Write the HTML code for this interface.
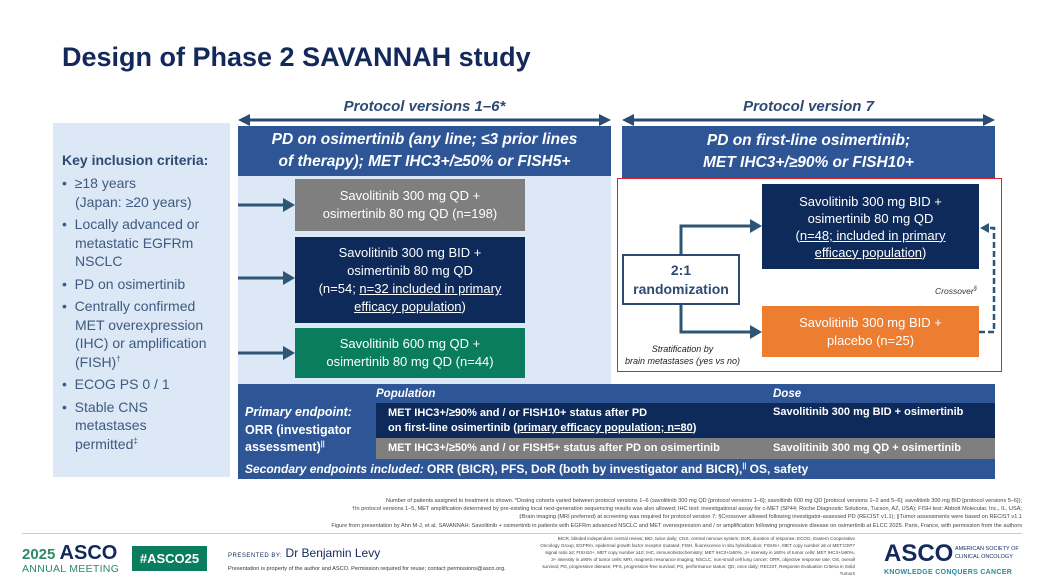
<!DOCTYPE html>
<html><head><meta charset="utf-8"><style>
*{margin:0;padding:0;box-sizing:border-box}
body{width:1040px;height:585px;background:#fff;font-family:"Liberation Sans",Arial,sans-serif;position:relative;overflow:hidden}
.a{position:absolute}
.c{display:flex;align-items:center;justify-content:center;text-align:center;color:#fff}
u{text-decoration:underline}
.li{padding-left:13px;text-indent:-13px;margin-top:4px}
sup{line-height:0}
</style></head><body>
<div class="a" style="left:62px;top:42px;font-size:27px;font-weight:bold;color:#13285b">Design of Phase 2 SAVANNAH study</div>

<div class="a" style="left:238px;top:98px;width:373px;text-align:center;font-size:15px;font-weight:bold;font-style:italic;color:#2d4a73">Protocol versions 1–6*</div>
<div class="a" style="left:622px;top:98px;width:373px;text-align:center;font-size:15px;font-weight:bold;font-style:italic;color:#2d4a73">Protocol version 7</div>
<svg class="a" style="left:0;top:0" width="1040" height="585">
<g fill="#2d4a73" stroke="#2d4a73">
<line x1="244" y1="120" x2="605" y2="120" stroke-width="3"/>
<polygon points="238,120 250,114 250,126" stroke="none"/><polygon points="611,120 599,114 599,126" stroke="none"/>
<line x1="628" y1="120" x2="989" y2="120" stroke-width="3"/>
<polygon points="622,120 634,114 634,126" stroke="none"/><polygon points="995,120 983,114 983,126" stroke="none"/>
</g>
</svg>

<div class="a" style="left:53px;top:123px;width:177px;height:354px;background:#dce8f5"></div>
<div class="a" style="left:238px;top:176px;width:373px;height:208px;background:#dce8f5"></div>
<div class="a" style="left:62px;top:152px;font-size:14px;font-weight:bold;color:#2d4a73">Key inclusion criteria:</div>
<div class="a" style="left:62px;top:174px;width:162px;font-size:14px;line-height:18.5px;color:#3e5a80">
<div class="li" style="margin-top:0">•&nbsp; ≥18 years<br>(Japan: ≥20 years)</div>
<div class="li">•&nbsp; Locally advanced or metastatic EGFRm NSCLC</div>
<div class="li">•&nbsp; PD on osimertinib</div>
<div class="li">•&nbsp; Centrally confirmed MET overexpression (IHC) or amplification (FISH)<sup style="font-size:8px">†</sup></div>
<div class="li">•&nbsp; ECOG PS 0 / 1</div>
<div class="li">•&nbsp; Stable CNS<br>metastases<br>permitted<sup style="font-size:8px">‡</sup></div>
</div>

<div class="a c" style="left:238px;top:126px;width:373px;height:50px;background:#2e5596;font-size:15.5px;font-weight:bold;font-style:italic;line-height:22px"><div>PD on osimertinib (any line; ≤3 prior lines<br>of therapy); MET IHC3+/≥50% or FISH5+</div></div>
<div class="a c" style="left:622px;top:126px;width:373px;height:52px;background:#2e5596;font-size:15.5px;font-weight:bold;font-style:italic;line-height:22px"><div>PD on first-line osimertinib;<br>MET IHC3+/≥90% or FISH10+</div></div>

<div class="a c" style="left:295px;top:179px;width:230px;height:52px;background:#7f7f7f;font-size:13px;line-height:18px"><div>Savolitinib 300 mg QD +<br>osimertinib 80 mg QD (n=198)</div></div>
<div class="a c" style="left:295px;top:237px;width:230px;height:86px;background:#0d2a5a;font-size:13px;line-height:18px"><div>Savolitinib 300 mg BID +<br>osimertinib 80 mg QD<br>(n=54; <u>n=32 included in primary</u><br><u>efficacy population</u>)</div></div>
<div class="a c" style="left:295px;top:328px;width:230px;height:50px;background:#0a7d5e;font-size:13px;line-height:18px"><div>Savolitinib 600 mg QD +<br>osimertinib 80 mg QD (n=44)</div></div>

<div class="a" style="left:617px;top:178px;width:385px;height:194px;border:1.5px solid #d9262c;background:#fff"></div>
<div class="a c" style="left:762px;top:184px;width:217px;height:85px;background:#0d2a5a;font-size:13px;line-height:17px"><div>Savolitinib 300 mg BID +<br>osimertinib 80 mg QD<br>(<u>n=48; included in primary</u><br><u>efficacy population</u>)</div></div>
<div class="a c" style="left:762px;top:306px;width:217px;height:51px;background:#ec7d31;font-size:13px;line-height:18px"><div>Savolitinib 300 mg BID +<br>placebo (n=25)</div></div>
<div class="a c" style="left:622px;top:254px;width:118px;height:51px;border:2px solid #2d4a73;background:#fff;color:#2d4a73;font-size:14px;font-weight:bold;line-height:19px"><div>2:1<br>randomization</div></div>
<div class="a" style="left:620px;top:343px;width:125px;text-align:center;font-size:9px;font-style:italic;color:#222;line-height:12px">Stratification by<br>brain metastases (yes vs no)</div>
<div class="a" style="left:935px;top:286px;font-size:8.5px;font-style:italic;color:#333">Crossover<sup style="font-size:6px">§</sup></div>

<svg class="a" style="left:0;top:0" width="1040" height="585">
<g fill="#2d5576" stroke="#2d5576">
<line x1="238" y1="205" x2="285" y2="205" stroke-width="3"/><polygon points="295,205 283,198 283,212" stroke="none"/>
<line x1="238" y1="278" x2="285" y2="278" stroke-width="3"/><polygon points="295,278 283,271 283,285" stroke="none"/>
<line x1="238" y1="353" x2="285" y2="353" stroke-width="3"/><polygon points="295,353 283,346 283,360" stroke="none"/>
<polyline points="681,254 681,226 752,226" fill="none" stroke-width="3"/><polygon points="762,226 750,219 750,233" stroke="none"/>
<polyline points="681,305 681,332 752,332" fill="none" stroke-width="3"/><polygon points="762,332 750,325 750,339" stroke="none"/>
<polyline points="979,332 994,332 994,228 988,228" fill="none" stroke-width="2.5" stroke-dasharray="6,3"/><polygon points="980,228 989,223 989,233" stroke="none"/>
</g>
</svg>

<div class="a" style="left:238px;top:384px;width:757px;height:95px;background:#2e5596"></div>
<div class="a" style="left:376px;top:388px;font-size:11.5px;font-weight:bold;font-style:italic;color:#fff">Population</div>
<div class="a" style="left:773px;top:388px;font-size:11.5px;font-weight:bold;font-style:italic;color:#fff">Dose</div>
<div class="a" style="left:245px;top:404px;font-size:12.5px;font-weight:bold;color:#fff;line-height:17.5px"><i>Primary endpoint:</i><br>ORR (investigator<br>assessment)<sup style="font-size:7px">||</sup></div>
<div class="a" style="left:376px;top:403px;width:619px;height:35px;background:#0d2a5a"></div>
<div class="a" style="left:388px;top:406px;font-size:11px;font-weight:bold;color:#fff;line-height:15px">MET IHC3+/≥90% and / or FISH10+ status after PD<br>on first-line osimertinib (<u>primary efficacy population; n=80</u>)</div>
<div class="a" style="left:773px;top:406px;font-size:11px;font-weight:bold;color:#fff">Savolitinib 300 mg BID + osimertinib</div>
<div class="a" style="left:376px;top:438px;width:619px;height:21px;background:#7f7f7f"></div>
<div class="a" style="left:388px;top:442px;font-size:11px;font-weight:bold;color:#fff">MET IHC3+/≥50% and / or FISH5+ status after PD on osimertinib</div>
<div class="a" style="left:773px;top:442px;font-size:11px;font-weight:bold;color:#fff">Savolitinib 300 mg QD + osimertinib</div>
<div class="a" style="left:245px;top:462px;font-size:12px;font-weight:bold;color:#fff"><i>Secondary endpoints included:</i> ORR (BICR), PFS, DoR (both by investigator and BICR),<sup style="font-size:7px">||</sup> OS, safety</div>

<div class="a" style="left:200px;top:497px;width:822px;text-align:right;font-size:5.6px;line-height:8.2px;color:#444">
Number of patients assigned to treatment is shown. *Dosing cohorts varied between protocol versions 1–6 (savolitinib 300 mg QD [protocol versions 1–6]; savolitinib 600 mg QD [protocol versions 1–2 and 5–6]; savolitinib 300 mg BID [protocol versions 5–6]);<br>
†In protocol versions 1–5, MET amplification determined by pre-existing local next-generation sequencing results was also allowed; IHC test: investigational assay for c-MET (SP44; Roche Diagnostic Solutions, Tucson, AZ, USA); FISH test: Abbott Molecular, Inc., IL, USA;<br>
‡Brain imaging (MRI preferred) at screening was required for protocol version 7; §Crossover allowed following investigator-assessed PD (RECIST v1.1); ||Tumor assessments were based on RECIST v1.1<br>
Figure from presentation by Ahn M-J, et al. SAVANNAH: Savolitinib + osimertinib in patients with EGFRm advanced NSCLC and MET overexpression and / or amplification following progressive disease on osimertinib at ELCC 2025. Paris, France, with permission from the authors</div>
<div class="a" style="left:22px;top:533px;width:1000px;height:1px;background:#ccc"></div>

<div class="a" style="left:22px;top:543px;font-size:20px;font-weight:bold;color:#13285b;line-height:20px"><span style="color:#2a8a6a;font-size:15px">2025 </span>ASCO</div>
<div class="a" style="left:22px;top:563px;font-size:10.5px;color:#2a8a6a;letter-spacing:0.3px">ANNUAL MEETING</div>
<div class="a c" style="left:132px;top:546px;width:75px;height:25px;background:#0a7d5e;font-size:13px;font-weight:bold">#ASCO25</div>
<div class="a" style="left:228px;top:546px;font-size:12px;color:#13285b"><span style="font-size:6px;letter-spacing:0.5px">PRESENTED BY:</span> Dr Benjamin Levy</div>
<div class="a" style="left:228px;top:566px;font-size:5.6px;color:#333">Presentation is property of the author and ASCO. Permission required for reuse; contact permissions@asco.org.</div>
<div class="a" style="left:540px;top:535px;width:315px;text-align:right;font-size:4.6px;line-height:7px;color:#444">BICR, blinded independent central review; BID, twice daily; CNS, central nervous system; DoR, duration of response; ECOG, Eastern Cooperative Oncology Group; EGFRm, epidermal growth factor receptor mutated; FISH, fluorescence in situ hybridization; FISH5+, MET copy number ≥5 or MET:CEP7 signal ratio ≥2; FISH10+, MET copy number ≥10; IHC, immunohistochemistry; MET IHC3+/≥50%, 3+ intensity in ≥50% of tumor cells; MET IHC3+/≥90%, 3+ intensity in ≥90% of tumor cells; MRI, magnetic resonance imaging; NSCLC, non-small cell lung cancer; ORR, objective response rate; OS, overall survival; PD, progressive disease; PFS, progression-free survival; PS, performance status; QD, once daily; RECIST, Response Evaluation Criteria in Solid Tumors</div>
<div class="a" style="left:884px;top:540px;font-size:24px;font-weight:bold;color:#13285b">ASCO</div>
<div class="a" style="left:955px;top:545px;font-size:5.5px;line-height:8px;color:#13285b">AMERICAN SOCIETY OF<br>CLINICAL ONCOLOGY</div>
<div class="a" style="left:884px;top:569px;font-size:7px;font-weight:bold;color:#2a8a9a;letter-spacing:0.3px">KNOWLEDGE CONQUERS CANCER</div>
</body></html>
